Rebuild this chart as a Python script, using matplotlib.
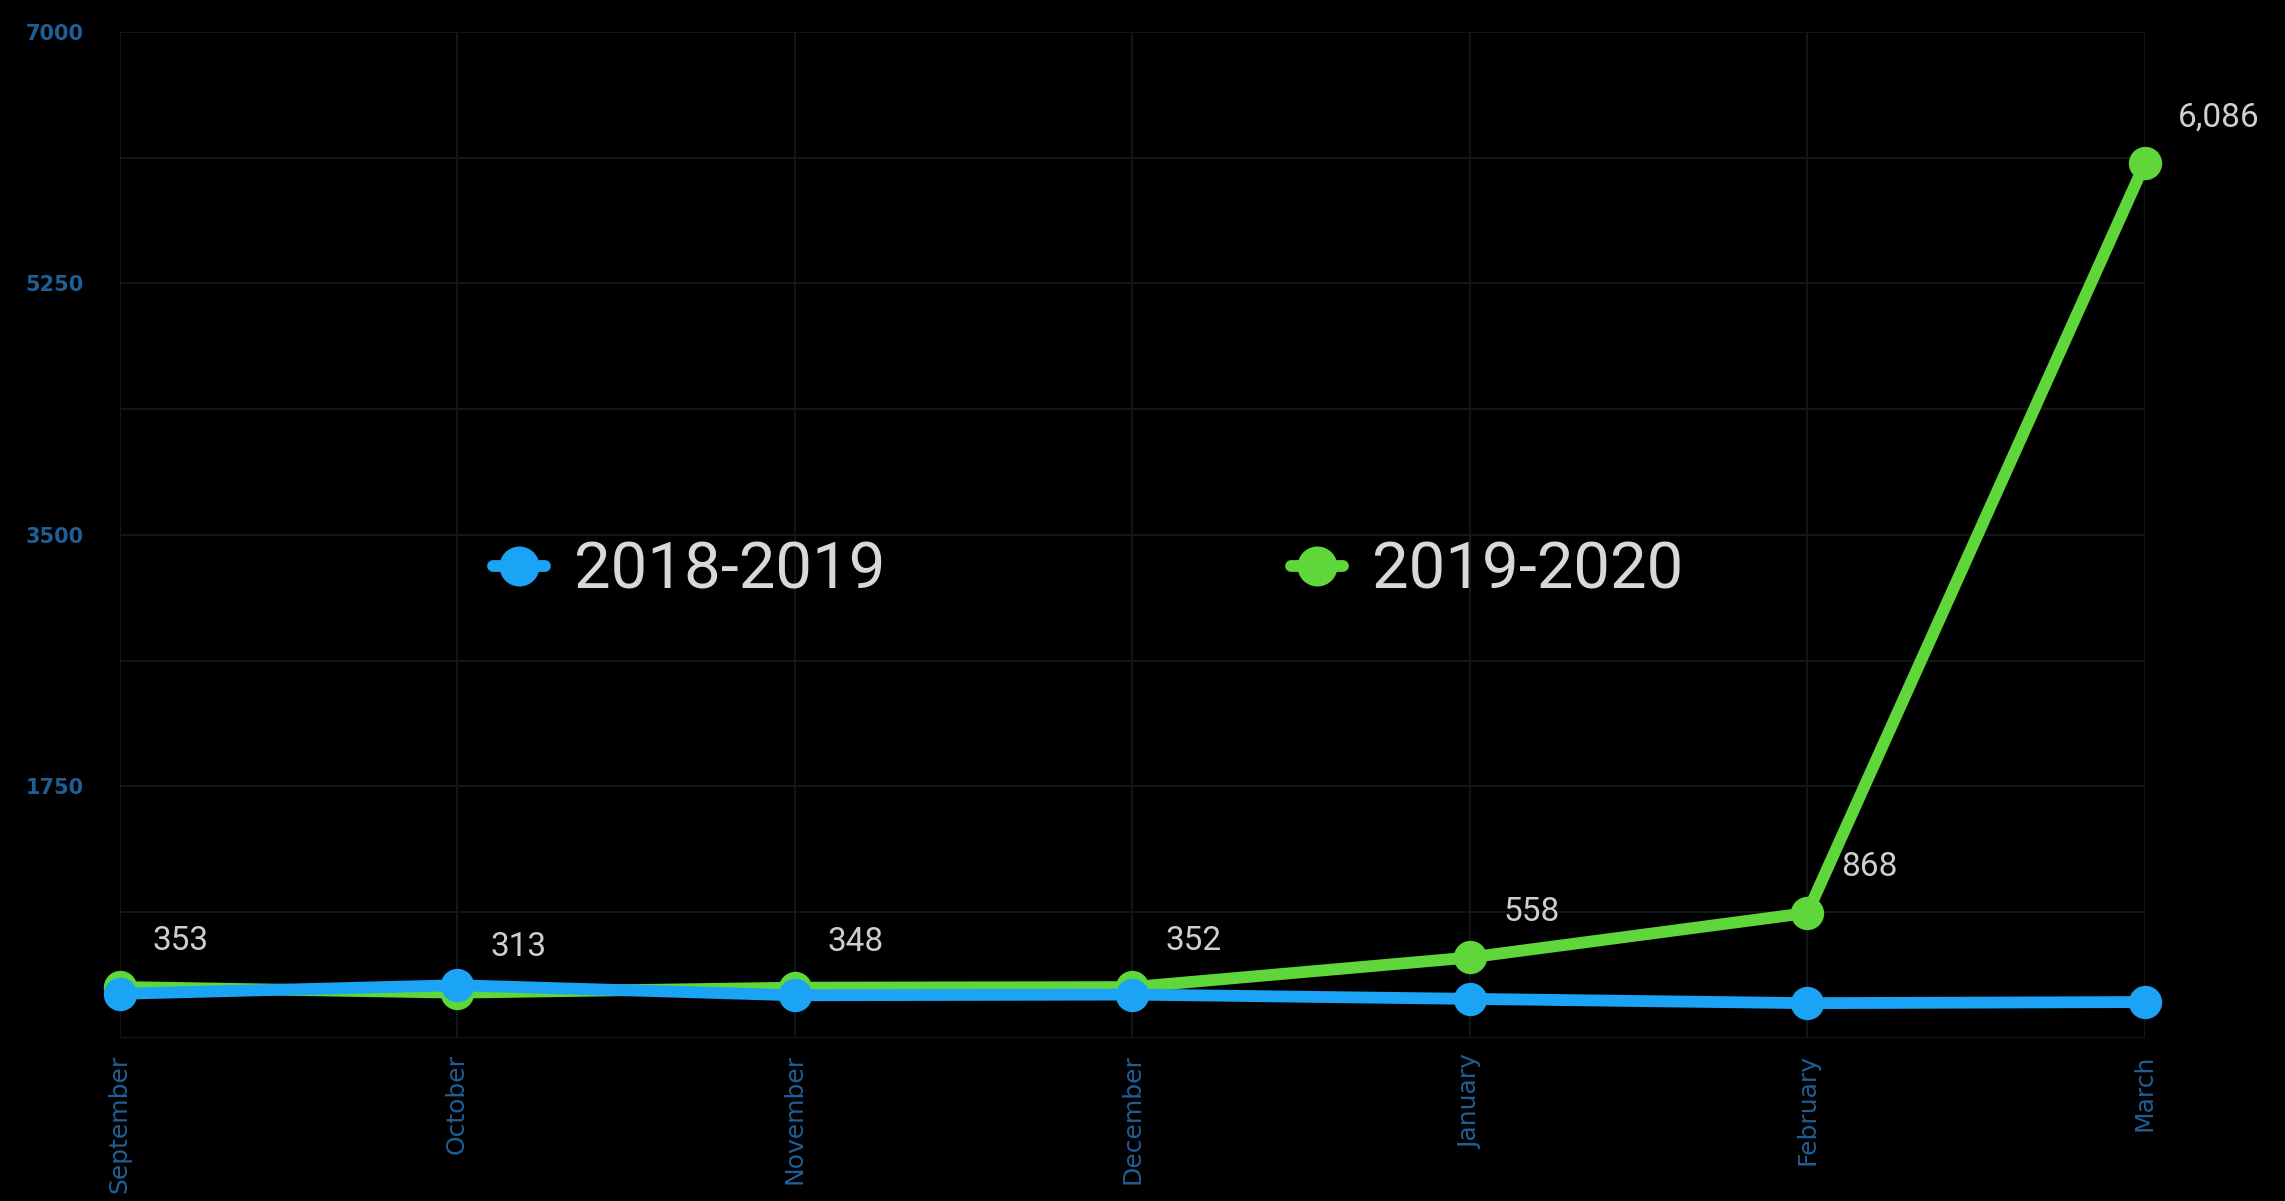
import matplotlib
matplotlib.use("Agg")
import matplotlib.pyplot as plt
from matplotlib.ticker import MultipleLocator

months = ["September", "October", "November", "December", "January", "February", "March"]
series_2018_2019 = [305, 365, 295, 300, 270, 240, 248]
series_2019_2020 = [353, 313, 348, 352, 558, 868, 6086]
label_2018 = "2018-2019"
label_2019 = "2019-2020"
y_ticks = [1750, 3500, 5250, 7000]

BLUE = "#1ba4f6"
GREEN = "#5fd63a"
GRID = "#12151a"
TICK_BLUE = "#1f5f96"
LABEL_GRAY = "#cfcfcf"

fig = plt.figure(figsize=(22.85, 12.01), dpi=100, facecolor="black")
ax = fig.add_axes([0.0523, 0.136, 0.8864, 0.8374])
ax.set_facecolor("black")

x = list(range(len(months)))
ax.plot(x, series_2019_2020, color=GREEN, lw=8.5, marker="o", ms=24, mew=0,
        label=label_2019, clip_on=False, zorder=3, solid_capstyle="round")
ax.plot(x, series_2018_2019, color=BLUE, lw=8.5, marker="o", ms=24, mew=0,
        label=label_2018, clip_on=False, zorder=4, solid_capstyle="round")

for xi, v in zip(x, series_2019_2020):
    ax.annotate(f"{v:,}", (xi, v), xytext=(24, 33), textcoords="offset points",
                ha="left", va="center", color=LABEL_GRAY, fontsize=24,
                family="Roboto", zorder=5)

ax.set_xlim(0, len(months) - 1)
ax.set_ylim(0, 7000)
ax.yaxis.set_minor_locator(MultipleLocator(875))
ax.set_yticks(y_ticks)
ax.set_yticklabels([str(t) for t in y_ticks])
ax.set_xticks(x)
ax.set_xticklabels(months, rotation=90, va="top", ha="center")

ax.grid(True, which="both", color=GRID, lw=1.5)
ax.tick_params(axis="both", which="both", length=0)
ax.tick_params(axis="y", colors=TICK_BLUE, labelsize=15, pad=26)
ax.tick_params(axis="x", colors=TICK_BLUE, labelsize=18, pad=12)
for lbl in ax.get_yticklabels():
    lbl.set_fontweight("bold")
for s in ax.spines.values():
    s.set_visible(False)

handles, labels = ax.get_legend_handles_labels()
handles, labels = handles[::-1], labels[::-1]
leg = ax.legend(handles, labels, loc="center left", bbox_to_anchor=(0.19, 0.525),
                bbox_transform=fig.transFigure, ncol=2, frameon=False,
                prop={"family": "Roboto", "size": 47}, handlelength=0.8,
                handletextpad=0.45, columnspacing=6.2, markerscale=1.2)
for t in leg.get_texts():
    t.set_color("#d8d8d8")

fig.savefig("out.png", dpi=100, facecolor="black")
